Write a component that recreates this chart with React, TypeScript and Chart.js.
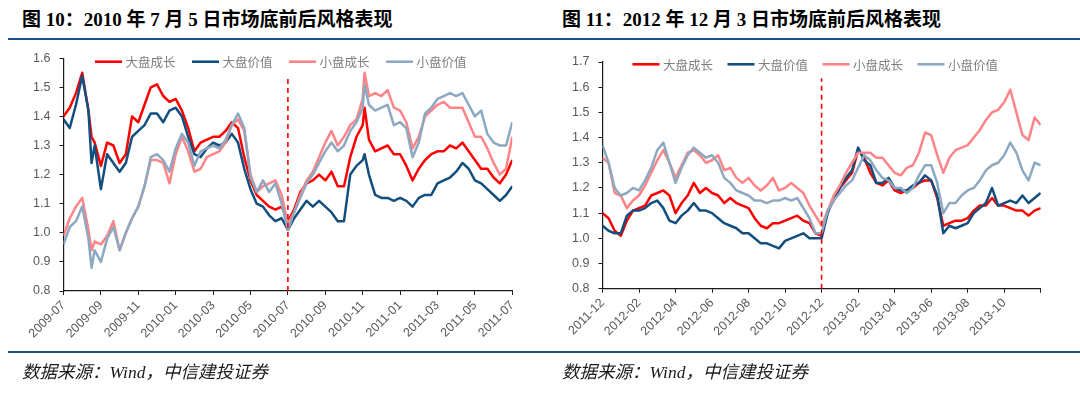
import React, { useEffect, useRef } from "react";
import { Chart, registerables } from "chart.js";

Chart.register(...registerables);

// ---------------- data ----------------
const SERIES_NAMES = ["大盘成长", "大盘价值", "小盘成长", "小盘价值"];
const SERIES_COLORS = ["#FF0000", "#124E7E", "#FF8488", "#8DA8C1"];

const LEFT_TITLE = "图 10：2010 年 7 月 5 日市场底前后风格表现";
const RIGHT_TITLE = "图 11：2012 年 12 月 3 日市场底前后风格表现";
const SOURCE_TEXT = "数据来源：Wind，中信建投证券";

const LEFT_TICK_LABELS = ["2009-07", "2009-09", "2009-11", "2010-01", "2010-03", "2010-05", "2010-07", "2010-09", "2010-11", "2011-01", "2011-03", "2011-05", "2011-07"];
const RIGHT_TICK_LABELS = ["2011-12", "2012-02", "2012-04", "2012-06", "2012-08", "2012-10", "2012-12", "2013-02", "2013-04", "2013-06", "2013-08", "2013-10", ""];

const LEFT_MARKER_DATE = "2010-07-01";
const RIGHT_MARKER_DATE = "2012-12-01";

const leftDates = [
  "2009-07-01", "2009-07-11", "2009-07-21",
  "2009-08-01", "2009-08-11", "2009-08-16", "2009-08-21",
  "2009-09-01", "2009-09-11", "2009-09-21",
  "2009-10-01", "2009-10-11", "2009-10-21",
  "2009-11-01", "2009-11-11", "2009-11-21",
  "2009-12-01", "2009-12-11", "2009-12-21",
  "2010-01-01", "2010-01-11", "2010-01-21",
  "2010-02-01", "2010-02-11", "2010-02-21",
  "2010-03-01", "2010-03-11", "2010-03-21",
  "2010-04-01", "2010-04-11", "2010-04-21",
  "2010-05-01", "2010-05-11", "2010-05-21",
  "2010-06-01", "2010-06-11", "2010-06-21",
  "2010-07-01", "2010-07-11", "2010-07-21",
  "2010-08-01", "2010-08-11", "2010-08-21",
  "2010-09-01", "2010-09-11", "2010-09-21",
  "2010-10-01", "2010-10-11", "2010-10-21",
  "2010-11-01", "2010-11-04", "2010-11-11", "2010-11-21",
  "2010-12-01", "2010-12-11", "2010-12-21",
  "2011-01-01", "2011-01-11", "2011-01-21",
  "2011-02-01", "2011-02-11", "2011-02-21",
  "2011-03-01", "2011-03-11", "2011-03-21",
  "2011-04-01", "2011-04-11", "2011-04-21",
  "2011-05-01", "2011-05-11", "2011-05-21",
  "2011-06-01", "2011-06-11", "2011-06-21",
  "2011-07-01",
];

const leftLargeGrowth = [
  1.40, 1.43, 1.48,
  1.55, 1.42, 1.33, 1.31,
  1.23, 1.31, 1.30,
  1.24, 1.27, 1.40,
  1.38, 1.44, 1.50,
  1.51, 1.47, 1.45,
  1.46, 1.42, 1.36,
  1.28, 1.31, 1.32,
  1.33, 1.33, 1.35,
  1.38, 1.36, 1.26,
  1.18, 1.13, 1.11,
  1.09, 1.08, 1.09,
  1.04, 1.08, 1.14,
  1.17, 1.18, 1.20,
  1.18, 1.21, 1.16,
  1.16, 1.26, 1.33,
  1.37, 1.43, 1.32, 1.28,
  1.29, 1.30, 1.27,
  1.27, 1.23, 1.18,
  1.22, 1.25, 1.27,
  1.28, 1.28, 1.30,
  1.29, 1.31, 1.28,
  1.25, 1.22, 1.22,
  1.19, 1.17, 1.20,
  1.25,
];

const leftLargeValue = [
  1.39, 1.36, 1.44,
  1.54, 1.42, 1.24, 1.30,
  1.15, 1.27, 1.24,
  1.21, 1.24, 1.33,
  1.35, 1.37, 1.41,
  1.41, 1.38, 1.42,
  1.43, 1.40, 1.33,
  1.27, 1.26, 1.29,
  1.31, 1.30, 1.31,
  1.34, 1.31, 1.22,
  1.15, 1.10, 1.09,
  1.06, 1.04, 1.05,
  1.01, 1.05, 1.08,
  1.11, 1.09, 1.11,
  1.09, 1.07, 1.04,
  1.04, 1.20, 1.23,
  1.25, 1.27, 1.20, 1.13,
  1.12, 1.12, 1.11,
  1.12, 1.11, 1.09,
  1.12, 1.13, 1.13,
  1.17, 1.18, 1.19,
  1.21, 1.24, 1.22,
  1.18, 1.17, 1.15,
  1.13, 1.11, 1.13,
  1.16,
];

const leftSmallGrowth = [
  0.99, 1.05, 1.09,
  1.12, 1.01, 0.94, 0.97,
  0.96, 0.99, 1.04,
  0.94, 1.00, 1.05,
  1.09, 1.16, 1.25,
  1.25, 1.24, 1.17,
  1.27, 1.33, 1.28,
  1.21, 1.22, 1.26,
  1.27, 1.28, 1.31,
  1.37, 1.39, 1.35,
  1.20, 1.14, 1.16,
  1.17, 1.18, 1.13,
  1.03, 1.07, 1.13,
  1.18, 1.21, 1.26,
  1.31, 1.35, 1.30,
  1.33, 1.37, 1.39,
  1.46, 1.55, 1.47, 1.48,
  1.47, 1.49, 1.43,
  1.42, 1.38, 1.29,
  1.33, 1.40, 1.42,
  1.44, 1.45, 1.43,
  1.43, 1.43, 1.38,
  1.33, 1.33, 1.29,
  1.24, 1.20, 1.22,
  1.33,
];

const leftSmallValue = [
  0.96, 1.02, 1.04,
  1.09, 0.98, 0.88, 0.94,
  0.90, 0.98, 1.02,
  0.94, 1.00, 1.05,
  1.09, 1.16, 1.26,
  1.27, 1.25, 1.21,
  1.29, 1.34, 1.31,
  1.23, 1.28, 1.29,
  1.30, 1.29, 1.32,
  1.37, 1.41, 1.36,
  1.19, 1.14, 1.18,
  1.14, 1.17, 1.10,
  1.01, 1.07, 1.12,
  1.17, 1.20, 1.24,
  1.28, 1.31, 1.28,
  1.30, 1.35, 1.38,
  1.43, 1.51, 1.44, 1.42,
  1.43, 1.44, 1.37,
  1.38, 1.36, 1.26,
  1.31, 1.41, 1.43,
  1.46, 1.47, 1.48,
  1.47, 1.48, 1.44,
  1.40, 1.42, 1.34,
  1.31, 1.30, 1.30,
  1.38,
];

const rightDates = [
  "2011-12-01", "2011-12-11", "2011-12-21",
  "2012-01-01", "2012-01-11", "2012-01-21",
  "2012-02-01", "2012-02-11", "2012-02-21",
  "2012-03-01", "2012-03-11", "2012-03-21",
  "2012-04-01", "2012-04-11", "2012-04-21",
  "2012-05-01", "2012-05-11", "2012-05-21",
  "2012-06-01", "2012-06-11", "2012-06-21",
  "2012-07-01", "2012-07-11", "2012-07-21",
  "2012-08-01", "2012-08-11", "2012-08-21",
  "2012-09-01", "2012-09-11", "2012-09-21",
  "2012-10-01", "2012-10-11", "2012-10-21",
  "2012-11-01", "2012-11-11", "2012-11-21",
  "2012-12-01", "2012-12-11", "2012-12-21",
  "2013-01-01", "2013-01-11", "2013-01-21",
  "2013-02-01", "2013-02-11", "2013-02-21",
  "2013-03-01", "2013-03-11", "2013-03-21",
  "2013-04-01", "2013-04-11", "2013-04-21",
  "2013-05-01", "2013-05-11", "2013-05-21",
  "2013-06-01", "2013-06-11", "2013-06-21",
  "2013-07-01", "2013-07-11", "2013-07-21",
  "2013-08-01", "2013-08-11", "2013-08-21",
  "2013-09-01", "2013-09-11", "2013-09-21",
  "2013-10-01", "2013-10-11", "2013-10-21",
  "2013-11-01", "2013-11-11", "2013-11-21",
  "2013-12-01",
];

const rightLargeGrowth = [
  1.10, 1.08, 1.03,
  1.01, 1.07, 1.11,
  1.12, 1.13, 1.17,
  1.18, 1.19, 1.17,
  1.10, 1.14, 1.17,
  1.22, 1.18, 1.20,
  1.18, 1.17, 1.14,
  1.16, 1.14, 1.13,
  1.12, 1.08, 1.05,
  1.04, 1.06, 1.06,
  1.07, 1.08, 1.09,
  1.07, 1.06, 1.02,
  1.01, 1.11, 1.15,
  1.20, 1.23, 1.26,
  1.35, 1.32, 1.26,
  1.22, 1.21, 1.23,
  1.19, 1.18, 1.19,
  1.20, 1.22, 1.23,
  1.23, 1.16, 1.05,
  1.06, 1.07, 1.07,
  1.08, 1.11, 1.13,
  1.13, 1.16, 1.13,
  1.13, 1.12, 1.11,
  1.11, 1.09, 1.11,
  1.12,
];

const rightLargeValue = [
  1.05, 1.03, 1.02,
  1.02, 1.09, 1.11,
  1.11, 1.12, 1.14,
  1.15, 1.12, 1.07,
  1.06, 1.09, 1.11,
  1.14, 1.11, 1.11,
  1.10, 1.08, 1.06,
  1.05, 1.04, 1.02,
  1.02, 1.00, 0.98,
  0.98, 0.97, 0.96,
  0.99, 1.00, 1.01,
  1.02, 1.00, 1.00,
  1.00, 1.10, 1.16,
  1.20, 1.24, 1.27,
  1.36, 1.31, 1.29,
  1.22, 1.22, 1.24,
  1.20, 1.19, 1.19,
  1.21, 1.22, 1.25,
  1.23, 1.17, 1.02,
  1.05, 1.04, 1.05,
  1.06, 1.10, 1.12,
  1.14, 1.20, 1.13,
  1.14, 1.15, 1.14,
  1.17, 1.14, 1.16,
  1.18,
];

const rightSmallGrowth = [
  1.32, 1.30, 1.18,
  1.17, 1.12, 1.15,
  1.17, 1.21, 1.26,
  1.31, 1.35, 1.30,
  1.24, 1.29, 1.34,
  1.35, 1.33, 1.30,
  1.31, 1.33, 1.27,
  1.28, 1.24, 1.22,
  1.24, 1.21, 1.19,
  1.21, 1.24, 1.19,
  1.20, 1.22, 1.20,
  1.18, 1.13, 1.09,
  1.05, 1.11, 1.17,
  1.21, 1.26, 1.30,
  1.34, 1.34, 1.34,
  1.32, 1.32, 1.29,
  1.26, 1.25, 1.28,
  1.29, 1.34, 1.42,
  1.41, 1.33, 1.26,
  1.32, 1.35, 1.36,
  1.37, 1.40, 1.43,
  1.47, 1.50, 1.51,
  1.54, 1.59, 1.50,
  1.41, 1.39, 1.48,
  1.45,
];

const rightSmallValue = [
  1.37, 1.30, 1.20,
  1.17, 1.18, 1.20,
  1.19, 1.23, 1.28,
  1.35, 1.38, 1.30,
  1.22, 1.28, 1.33,
  1.36, 1.34, 1.32,
  1.33, 1.30, 1.24,
  1.22, 1.19, 1.18,
  1.17, 1.15, 1.15,
  1.14, 1.15, 1.15,
  1.16, 1.15, 1.16,
  1.12, 1.08, 1.02,
  1.02, 1.11, 1.15,
  1.18, 1.21, 1.23,
  1.28, 1.33, 1.31,
  1.27, 1.24, 1.23,
  1.20, 1.20, 1.18,
  1.20, 1.25, 1.29,
  1.29, 1.22, 1.10,
  1.14, 1.14, 1.17,
  1.19, 1.20, 1.23,
  1.27, 1.29, 1.30,
  1.33, 1.38, 1.34,
  1.27, 1.23, 1.30,
  1.29,
];

// ---------------- helpers ----------------
function monthOffset(date: string, base: string) {
  const [y, m, d] = date.split("-").map(Number);
  const [by, bm] = base.split("-").map(Number);
  return (y - by) * 12 + (m - bm) + (d - 1) / 30;
}

const inlineLegend = {
  id: "inlineLegend",
  afterDatasetsDraw(chart: any, _args: any, opts: any) {
    if (!opts || !opts.items) return;
    const { ctx, chartArea } = chart;
    ctx.save();
    opts.items.forEach((it: any, i: number) => {
      const x = chartArea.left + opts.offsetX + i * opts.step;
      const y = chartArea.top + opts.offsetY;
      ctx.strokeStyle = it.color;
      ctx.lineWidth = 2.6;
      ctx.beginPath();
      ctx.moveTo(x, y);
      ctx.lineTo(x + opts.lineLen, y);
      ctx.stroke();
      ctx.fillStyle = "#7F7F7F";
      ctx.font = '12.5px "Noto Sans CJK SC", sans-serif';
      ctx.textBaseline = "middle";
      ctx.textAlign = "left";
      ctx.fillText(it.label, x + opts.lineLen + opts.gap, y + 0.5);
    });
    ctx.restore();
  },
};

type Spec = {
  dates: string[];
  base: string;
  series: number[][];
  yMax: number;
  ticks: string[];
  marker: string;
  markerTop: number;
  area: { left: number; right: number; top: number; bottom: number };
  legend: { offsetX: number; offsetY: number; step: number };
};

function makeConfig(spec: Spec, width: number, height: number): any {
  const xs = spec.dates.map((d) => monthOffset(d, spec.base));
  const mx = monthOffset(spec.marker, spec.base);
  const drawOrder = [4, 3, 2, 1];
  const datasets: any[] = spec.series.map((vals, i) => ({
    label: SERIES_NAMES[i],
    data: vals.map((v, k) => ({ x: xs[k], y: v })),
    borderColor: SERIES_COLORS[i],
    backgroundColor: SERIES_COLORS[i],
    borderWidth: 2.5,
    pointRadius: 0,
    tension: 0,
    borderJoinStyle: "round",
    order: drawOrder[i],
  }));
  datasets.push({
    label: "marker",
    data: [
      { x: mx, y: 0.8 },
      { x: mx, y: spec.markerTop },
    ],
    borderColor: "#FF0000",
    borderWidth: 1.6,
    borderDash: [5, 4],
    pointRadius: 0,
    order: 0,
  });

  const tickFont = { family: '"Liberation Sans", Arial, sans-serif', size: 12.5 };
  return {
    type: "line",
    data: { datasets },
    options: {
      animation: false,
      responsive: false,
      maintainAspectRatio: false,
      events: [],
      layout: {
        padding: {
          left: 0,
          top: spec.area.top,
          right: width - spec.area.right,
          bottom: 0,
        },
      },
      plugins: {
        legend: { display: false },
        tooltip: { enabled: false },
        inlineLegend: {
          items: SERIES_NAMES.map((n, i) => ({ label: n, color: SERIES_COLORS[i] })),
          offsetX: spec.legend.offsetX,
          offsetY: spec.legend.offsetY,
          step: spec.legend.step,
          lineLen: 27,
          gap: 3.5,
        },
      },
      scales: {
        x: {
          type: "linear",
          min: 0,
          max: 24,
          afterFit: (s: any) => {
            s.height = height - spec.area.bottom;
            s.paddingLeft = 0;
            s.paddingRight = 0;
          },
          ticks: {
            stepSize: 2,
            autoSkip: false,
            maxRotation: 45,
            minRotation: 45,
            padding: 3,
            color: "#595959",
            font: tickFont,
            callback: (_v: any, idx: number) => spec.ticks[idx] ?? "",
          },
          grid: {
            drawOnChartArea: false,
            drawTicks: true,
            tickLength: 4,
            color: "#1a1a1a",
          },
          border: { display: true, color: "#1a1a1a", width: 1.2 },
        },
        y: {
          type: "linear",
          min: 0.8,
          max: spec.yMax,
          afterFit: (s: any) => {
            s.width = spec.area.left;
            s.paddingTop = 0;
            s.paddingBottom = 0;
          },
          ticks: {
            stepSize: 0.1,
            padding: 9,
            color: "#595959",
            font: tickFont,
            callback: (v: any) => Number(v).toFixed(1),
          },
          grid: {
            drawOnChartArea: false,
            drawTicks: true,
            tickLength: 4,
            color: "#1a1a1a",
          },
          border: { display: true, color: "#1a1a1a", width: 1.2 },
        },
      },
    },
    plugins: [inlineLegend],
  };
}

const RULE_COLOR = "#17548A";

function Panel(props: { x: number; title: string; spec: Spec; ruleLeft: number }) {
  const ref = useRef<HTMLCanvasElement | null>(null);
  const W = 540;
  const H = 398;
  useEffect(() => {
    if (!ref.current) return;
    const chart = new Chart(ref.current, makeConfig(props.spec, W, H));
    return () => chart.destroy();
  }, []);
  return (
    <div style={{ position: "absolute", left: props.x, top: 0, width: W, height: H }}>
      <div
        style={{
          position: "absolute",
          left: 22,
          top: 7,
          height: 26,
          lineHeight: "26px",
          fontFamily: '"Liberation Serif", "Times New Roman", "Noto Sans CJK SC", serif',
          fontWeight: "bold",
          fontSize: 19,
          color: "#000",
          whiteSpace: "nowrap",
        }}
      >
        {props.title}
      </div>
      <div
        style={{
          position: "absolute",
          left: props.ruleLeft,
          right: 0,
          top: 37.5,
          height: 2.5,
          background: RULE_COLOR,
        }}
      />
      <canvas
        ref={ref}
        width={W}
        height={H}
        style={{ position: "absolute", left: 0, top: 0, width: W, height: H }}
      />
      <div
        style={{
          position: "absolute",
          left: props.ruleLeft,
          right: 0,
          top: 350.5,
          height: 2.2,
          background: RULE_COLOR,
        }}
      />
      <div
        style={{
          position: "absolute",
          left: 22,
          top: 360,
          height: 24,
          lineHeight: "24px",
          fontFamily: '"Liberation Serif", "Times New Roman", "Noto Sans CJK SC", serif',
          fontStyle: "italic",
          fontSize: 17.5,
          color: "#1a1a1a",
          whiteSpace: "nowrap",
        }}
      >
        {SOURCE_TEXT}
      </div>
    </div>
  );
}

const leftSpec: Spec = {
  dates: leftDates,
  base: "2009-07",
  series: [leftLargeGrowth, leftLargeValue, leftSmallGrowth, leftSmallValue],
  yMax: 1.6,
  ticks: LEFT_TICK_LABELS,
  marker: LEFT_MARKER_DATE,
  markerTop: 1.54,
  area: { left: 63.5, right: 512.3, top: 58.2, bottom: 291 },
  legend: { offsetX: 31.5, offsetY: 3.5, step: 97 },
};

const rightSpec: Spec = {
  dates: rightDates,
  base: "2011-12",
  series: [rightLargeGrowth, rightLargeValue, rightSmallGrowth, rightSmallValue],
  yMax: 1.7,
  ticks: RIGHT_TICK_LABELS,
  marker: RIGHT_MARKER_DATE,
  markerTop: 1.635,
  area: { left: 62.5, right: 500.7, top: 62, bottom: 288.7 },
  legend: { offsetX: 30, offsetY: 2.3, step: 95 },
};

export default function App() {
  return (
    <div style={{ position: "relative", width: 1080, height: 398, background: "#fff", overflow: "hidden" }}>
      <style>{`html,body{margin:0;padding:0;background:#fff;}`}</style>
      <Panel x={0} title={LEFT_TITLE} spec={leftSpec} ruleLeft={8} />
      <Panel x={540} title={RIGHT_TITLE} spec={rightSpec} ruleLeft={0} />
    </div>
  );
}
